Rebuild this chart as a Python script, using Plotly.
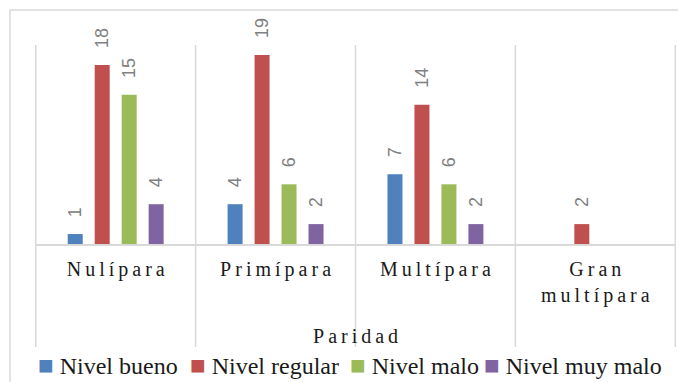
import plotly.graph_objects as go

categories = ["Nulípara", "Primípara", "Multípara", "Gran multípara"]
series_names = ["Nivel bueno", "Nivel regular", "Nivel malo", "Nivel muy malo"]
nivel_bueno = [1, 4, 7, None]
nivel_regular = [18, 19, 14, 2]
nivel_malo = [15, 6, 6, None]
nivel_muy_malo = [4, 2, 2, None]
axis_title = "Paridad"

series_values = [nivel_bueno, nivel_regular, nivel_malo, nivel_muy_malo]
colors = ["#4F81BD", "#C0504D", "#9BBB59", "#8064A2"]
legend_x = [0.0016, 0.2387, 0.4883, 0.6973]  # paper positions of legend entries

SERIF = "Liberation Serif"
SANS = "Liberation Sans"
THIN = "\u2009"


def spaced(s):
    return "<br>".join(THIN.join(w) for w in s.split(" "))


tick_text = [spaced(c) for c in categories]

bargap = 0.325
bargroupgap = 0.444
n = len(series_values)
slot = (1 - bargap) / n

fig = go.Figure()
for name, vals, col in zip(series_names, series_values, colors):
    fig.add_trace(go.Bar(
        x=categories, y=vals, name=name, marker_color=col,
        marker_line_width=0, showlegend=False,
    ))

annotations = []
# data labels
for si, vals in enumerate(series_values):
    off = (si - (n - 1) / 2) * slot
    for ci, v in enumerate(vals):
        if v is None:
            continue
        annotations.append(dict(
            x=ci + off, y=v, xref="x", yref="y", text=str(v),
            showarrow=False, textangle=-90, yanchor="bottom", xanchor="center",
            yshift=15, font=dict(family=SANS, size=18, color="#808080"),
        ))

# axis title
annotations.append(dict(
    x=0.5, y=-0.46, xref="paper", yref="paper", text=spaced(axis_title),
    showarrow=False, xanchor="center", yanchor="middle",
    font=dict(family=SERIF, size=20, color="#1a1a1a"),
))

# legend (custom, one entry per series)
for name, col, lx in zip(series_names, colors, legend_x):
    annotations.append(dict(
        x=lx, y=-0.613, xref="paper", yref="paper",
        text=f"<span style='color:{col};font-size:26px'>\u25a0</span>\u00a0{name}",
        showarrow=False, xanchor="left", yanchor="middle",
        font=dict(family=SERIF, size=24, color="#1a1a1a"),
    ))

shapes = []
for i in range(len(categories) + 1):
    shapes.append(dict(
        type="line", xref="x", yref="paper", x0=i - 0.5, x1=i - 0.5,
        y0=-0.518, y1=1, line=dict(color="#D9D9D9", width=1.5),
    ))
# outer chart border
shapes.append(dict(
    type="rect", xref="paper", yref="paper", x0=-0.039, x1=1.03, y0=-0.8, y1=1.176,
    line=dict(color="#D9D9D9", width=1.5), layer="below",
))

fig.update_layout(
    width=678, height=374,
    margin=dict(l=27, r=10, t=37, b=138),
    paper_bgcolor="white", plot_bgcolor="white",
    barmode="group", bargap=bargap, bargroupgap=bargroupgap,
    xaxis=dict(
        tickmode="array", tickvals=categories, ticktext=tick_text,
        showline=True, linecolor="#D9D9D9", linewidth=1.5,
        showgrid=False, zeroline=False, ticks="",
        tickfont=dict(family=SERIF, size=20, color="#1a1a1a"),
        ticklabelstandoff=6,
    ),
    yaxis=dict(range=[0, 20], visible=False, showgrid=False, zeroline=False),
    annotations=annotations, shapes=shapes,
)

fig.write_html("out.html")
